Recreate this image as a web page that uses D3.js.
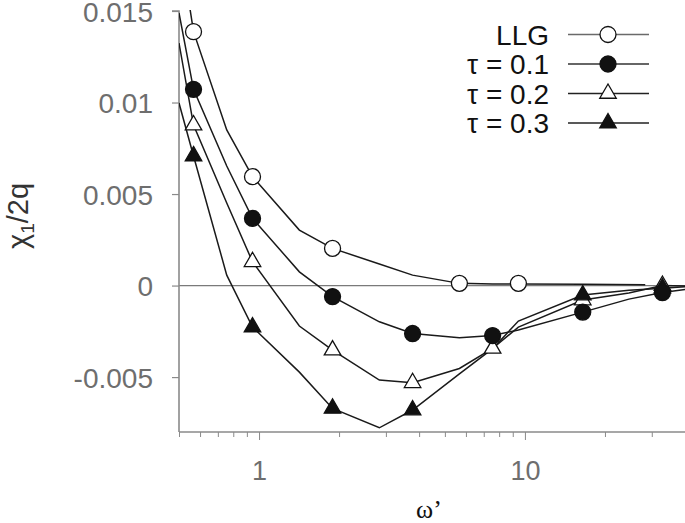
<!DOCTYPE html>
<html>
<head>
<meta charset="utf-8">
<script src="https://cdn.jsdelivr.net/npm/d3@7"></script>
<style>
  html, body { margin: 0; padding: 0; background: #fff; }
  svg { display: block; }
</style>
</head>
<body>
<svg id="chart" width="685" height="523"></svg>
<script>
// ---- data ----
const seriesNames = ["LLG", "τ = 0.1", "τ = 0.2", "τ = 0.3"];

const lineX = [0.5, 0.567, 0.756, 0.945, 1.418, 1.89, 2.835, 3.78, 5.67, 7.56, 9.45, 16.5, 24.6, 32.9, 40];
const llgLineX = [0.5, 0.567, 0.756, 0.945, 1.418, 1.89, 2.835, 3.78, 5.67, 7.56, 9.45, 16.5, 28.35];

const llgLineY = [0.0190, 0.01387, 0.0085, 0.00595, 0.00303, 0.00203, 0.00118, 0.00057, 0.00012, 0.00009, 0.00009, 0.00007, 0.00005];
const tau1LineY = [0.01489, 0.01072, 0.00653, 0.00367, 0.00075, -0.00060, -0.00198, -0.00262, -0.00285, -0.00273, -0.00243, -0.00145, -0.00074, -0.00038, -0.00021];
const tau2LineY = [0.01325, 0.00877, 0.00451, 0.00130, -0.00221, -0.00353, -0.00516, -0.00531, -0.00453, -0.00343, -0.00227, -0.00079, -0.00041, 0.00000, -0.00003];
const tau3LineY = [0.00997, 0.00708, 0.00057, -0.00227, -0.00473, -0.00671, -0.00777, -0.00680, -0.00482, -0.00345, -0.00194, -0.00052, -0.00025, -0.00014, -0.00006];

const llgMarkX = [0.567, 0.945, 1.89, 5.67, 9.45];
const llgMarkY = [0.01387, 0.00595, 0.00203, 0.00012, 0.00012];
const tau1MarkX = [0.567, 0.945, 1.89, 3.78, 7.56, 16.5, 32.9];
const tau1MarkY = [0.01072, 0.00367, -0.00060, -0.00262, -0.00273, -0.00145, -0.00038];
const tau2MarkX = [0.567, 0.945, 1.89, 3.78, 7.56, 16.5, 32.9];
const tau2MarkY = [0.00877, 0.00130, -0.00353, -0.00531, -0.00343, -0.00079, 0.00000];
const tau3MarkX = [0.567, 0.945, 1.89, 3.78, 16.5, 32.9];
const tau3MarkY = [0.00708, -0.00227, -0.00671, -0.00680, -0.00052, -0.00014];

const yTicks = [0.015, 0.01, 0.005, 0, -0.005];
const yTickLabels = ["0.015", "0.01", "0.005", "0", "-0.005"];
const xMajorTicks = [1, 10];
const xMajorLabels = ["1", "10"];
const xMinorTicks = [0.5, 0.6, 0.7, 0.8, 0.9, 2, 3, 4, 5, 6, 7, 8, 9, 20, 30, 40];

// ---- layout ----
const svg = d3.select("#chart");
const pLeft = 179, pRight = 685, pTop = 11, pBottom = 432;

const x = d3.scaleLog().domain([0.5, 40]).range([pLeft, pRight]);
const y = d3.scaleLinear().domain([-0.008, 0.015]).range([pBottom, pTop]);

const sansFont = "'Liberation Sans', Arial, Helvetica, sans-serif";
const gray = "#6e6e6e";

svg.append("defs").append("clipPath").attr("id", "plotclip")
  .append("rect").attr("x", pLeft).attr("y", pTop - 1).attr("width", pRight - pLeft).attr("height", pBottom - pTop + 1);

// zero line
svg.append("line")
  .attr("x1", pLeft).attr("x2", pRight)
  .attr("y1", y(0)).attr("y2", y(0))
  .attr("stroke", "#7a7a7a").attr("stroke-width", 1.2);

// axes
const yAxis = d3.axisLeft(y).tickValues(yTicks).tickSize(7).tickFormat((d, i) => yTickLabels[i]);
const gy = svg.append("g").attr("transform", `translate(${pLeft},0)`).call(yAxis);
gy.select(".domain").attr("d", `M-7,${pTop}H0V${pBottom}`).attr("stroke", "#8a8a8a").attr("stroke-width", 1.6);
gy.selectAll(".tick line").attr("stroke", "#8a8a8a").attr("stroke-width", 1.2);
gy.selectAll(".tick text").attr("x", -26).attr("dy", "0.36em")
  .attr("fill", gray).style("font-family", sansFont).style("font-size", "28px");

const xMinor = d3.axisBottom(x).tickValues(xMinorTicks).tickSize(5).tickFormat("");
const gxm = svg.append("g").attr("transform", `translate(0,${pBottom})`).call(xMinor);
gxm.select(".domain").attr("d", `M${pLeft},0H${pRight}`).attr("stroke", "#8a8a8a").attr("stroke-width", 1.6);
gxm.selectAll(".tick line").attr("stroke", "#8a8a8a").attr("stroke-width", 1);

const xMajor = d3.axisBottom(x).tickValues(xMajorTicks).tickSize(8).tickFormat((d, i) => xMajorLabels[i]);
const gx = svg.append("g").attr("transform", `translate(0,${pBottom})`).call(xMajor);
gx.select(".domain").remove();
gx.selectAll(".tick line").attr("stroke", "#8a8a8a").attr("stroke-width", 1);
gx.selectAll(".tick text").attr("y", 48).attr("dy", 0)
  .attr("fill", gray).style("font-family", sansFont).style("font-size", "27px");

// axis titles
const yl = svg.append("text")
  .attr("transform", "translate(28,216) rotate(-90)")
  .attr("text-anchor", "middle")
  .attr("fill", "#333")
  .style("font-family", sansFont).style("font-size", "29px");
yl.append("tspan").text("χ");
yl.append("tspan").attr("dy", 6).style("font-size", "19px").text("1");
yl.append("tspan").attr("dy", -6).text("/2q");

svg.append("text")
  .attr("x", 429).attr("y", 518)
  .attr("text-anchor", "middle")
  .attr("fill", "#111")
  .style("font-family", "'Liberation Serif', 'Times New Roman', serif").style("font-size", "26px")
  .text("ω’");

// ---- series ----
const lineGen = d3.line().x(d => x(d[0])).y(d => y(d[1]));
const plot = svg.append("g").attr("clip-path", "url(#plotclip)");

const series = [
  { lx: llgLineX, ly: llgLineY, mx: llgMarkX, my: llgMarkY, shape: "circle", fill: "#fff" },
  { lx: lineX, ly: tau1LineY, mx: tau1MarkX, my: tau1MarkY, shape: "circle", fill: "#111" },
  { lx: lineX, ly: tau2LineY, mx: tau2MarkX, my: tau2MarkY, shape: "triangle", fill: "#fff" },
  { lx: lineX, ly: tau3LineY, mx: tau3MarkX, my: tau3MarkY, shape: "triangle", fill: "#111" }
];

series.forEach(s => {
  plot.append("path")
    .attr("d", lineGen(s.lx.map((v, i) => [v, s.ly[i]])))
    .attr("fill", "none").attr("stroke", "#1a1a1a").attr("stroke-width", 1.5)
    .attr("stroke-linejoin", "miter");
});

function symbolPath(shape) {
  return shape === "circle"
    ? d3.symbol().type(d3.symbolCircle).size(Math.PI * 8 * 8)()
    : d3.symbol().type(d3.symbolTriangle).size(118)();
}

// draw order so that overlaps resemble reference
const drawOrder = [2, 3, 1, 0];
drawOrder.forEach(k => {
  const s = series[k];
  const g = svg.append("g");
  s.mx.forEach((v, i) => {
    g.append("path")
      .attr("d", symbolPath(s.shape))
      .attr("transform", `translate(${x(v)},${y(s.my[i])})`)
      .attr("fill", s.fill).attr("stroke", "#111").attr("stroke-width", 1.3);
  });
});

// ---- legend ----
const legY = [34.5, 64, 93.5, 123];
const legLineColors = ["#6a6a6a", "#333", "#222", "#222"];
seriesNames.forEach((name, i) => {
  const s = series[i];
  svg.append("text")
    .attr("x", 549).attr("y", legY[i]).attr("dy", "0.36em")
    .attr("text-anchor", "end").attr("fill", "#111")
    .style("font-family", sansFont).style("font-size", "28px")
    .text(name);
  svg.append("line")
    .attr("x1", 568).attr("x2", 649).attr("y1", legY[i]).attr("y2", legY[i])
    .attr("stroke", legLineColors[i]).attr("stroke-width", 1.5);
  svg.append("path")
    .attr("d", symbolPath(s.shape))
    .attr("transform", `translate(608,${legY[i]})`)
    .attr("fill", s.fill).attr("stroke", "#111").attr("stroke-width", 1.3);
});
</script>
</body>
</html>
